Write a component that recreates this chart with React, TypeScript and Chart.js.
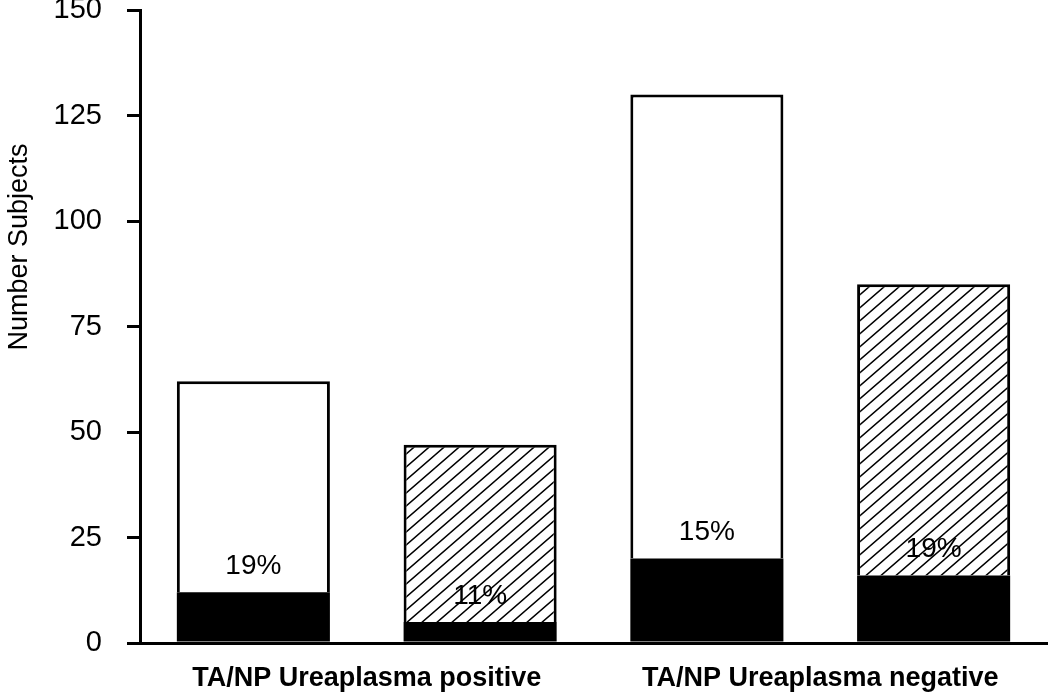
import React, { useEffect, useRef } from "react";
import { Chart, registerables } from "chart.js";

Chart.register(...registerables);

const categories = ["TA/NP Ureaplasma positive", "TA/NP Ureaplasma negative"];
const plainTotals = [62, 130];
const plainBlack = [12, 20];
const hatchedTotals = [47, 85];
const hatchedBlack = [5, 16];
const plainPercent = ["19%", "15%"];
const hatchedPercent = ["11%", "19%"];
const yTicks = [0, 25, 50, 75, 100, 125, 150];
const yTitle = "Number Subjects";

function makeHatch(): CanvasPattern | string {
  const w = 15;
  const h = 13;
  const c = document.createElement("canvas");
  c.width = w;
  c.height = h;
  const g = c.getContext("2d");
  if (!g) return "#fff";
  g.fillStyle = "#fff";
  g.fillRect(0, 0, w, h);
  g.strokeStyle = "#000";
  g.lineWidth = 1.5;
  g.beginPath();
  for (const [ox, oy] of [[0, 0], [-w, 0], [w, 0], [0, -h], [0, h], [-w, h], [w, -h]]) {
    g.moveTo(ox + 0, oy + h);
    g.lineTo(ox + w, oy + 0);
  }
  g.stroke();
  const p = g.createPattern(c, "repeat");
  return p || "#fff";
}

const labelPlugin = {
  id: "pctLabels",
  afterDatasetsDraw(chart: any) {
    const ctx = chart.ctx;
    ctx.save();
    ctx.fillStyle = "#000";
    ctx.font = "28px 'Liberation Sans', Arial, sans-serif";
    ctx.textAlign = "center";
    ctx.textBaseline = "middle";
    const pairs: [number, string[]][] = [
      [0, plainPercent],
      [2, hatchedPercent],
    ];
    pairs.forEach(([dsIndex, labels]) => {
      const meta = chart.getDatasetMeta(dsIndex);
      meta.data.forEach((el: any, i: number) => {
        ctx.fillText(labels[i], el.x, el.y - 26);
      });
    });
    ctx.restore();
  },
  afterDraw(chart: any) {
    const ctx = chart.ctx;
    ctx.save();
    ctx.fillStyle = "#000";
    ctx.font = "27px 'Liberation Sans', Arial, sans-serif";
    ctx.textAlign = "center";
    ctx.textBaseline = "middle";
    ctx.translate(20, 247);
    ctx.rotate(-Math.PI / 2);
    ctx.fillText(yTitle, 0, 0);
    ctx.restore();
  },
};

export default function App() {
  const ref = useRef<HTMLCanvasElement | null>(null);
  useEffect(() => {
    if (!ref.current) return;
    const hatch = makeHatch();
    const chart = new Chart(ref.current, {
      type: "bar",
      data: {
        labels: categories,
        datasets: [
          {
            label: "plain-black",
            data: plainBlack,
            stack: "plain",
            backgroundColor: "#000",
            borderWidth: 0,
          },
          {
            label: "plain-rest",
            data: plainTotals.map((t, i) => t - plainBlack[i]),
            stack: "plain",
            backgroundColor: "#fff",
            borderColor: "#000",
            borderWidth: 3,
          },
          {
            label: "hatched-black",
            data: hatchedBlack,
            stack: "hatched",
            backgroundColor: "#000",
            borderWidth: 0,
          },
          {
            label: "hatched-rest",
            data: hatchedTotals.map((t, i) => t - hatchedBlack[i]),
            stack: "hatched",
            backgroundColor: hatch as any,
            borderColor: "#000",
            borderWidth: 3,
          },
        ],
      },
      options: {
        animation: false,
        responsive: true,
        maintainAspectRatio: false,
        layout: { padding: { top: 10, right: 3, left: 0, bottom: 0 } },
        datasets: {
          bar: { categoryPercentage: 1, barPercentage: 0.675 },
        },
        plugins: {
          legend: { display: false },
          tooltip: { enabled: false },
          title: { display: false },
        },
        scales: {
          x: {
            stacked: true,
            grid: { display: false },
            border: { display: true, color: "#000", width: 3 },
            ticks: {
              color: "#000",
              padding: 11,
              maxRotation: 0,
              font: { family: "'Liberation Sans', Arial", size: 27, weight: "bold" },
            },
            afterFit(scale: any) {
              scale.height = 50;
              scale.paddingLeft = 0;
              scale.paddingRight = 0;
            },
          },
          y: {
            stacked: true,
            min: 0,
            max: 150,
            afterBuildTicks(scale: any) {
              scale.ticks = yTicks.map((v) => ({ value: v }));
            },
            grid: {
              display: true,
              drawOnChartArea: false,
              drawTicks: true,
              tickLength: 13,
              lineWidth: 3,
              tickWidth: 3,
              color: "#000",
              tickColor: "#000",
            },
            border: { display: true, color: "#000", width: 3 },
            ticks: {
              color: "#000",
              padding: 25,
              font: { family: "'Liberation Sans', Arial", size: 29 },
            },
            title: { display: false },
            afterFit(scale: any) {
              scale.width = 140;
              scale.paddingTop = 0;
              scale.paddingBottom = 0;
            },
          },
        },
      },
      plugins: [labelPlugin],
    });
    return () => chart.destroy();
  }, []);
  return (
    <div style={{ position: "absolute", left: 0, top: 0, width: 1050, height: 693, background: "#fff" }}>
      <canvas ref={ref} />
    </div>
  );
}
